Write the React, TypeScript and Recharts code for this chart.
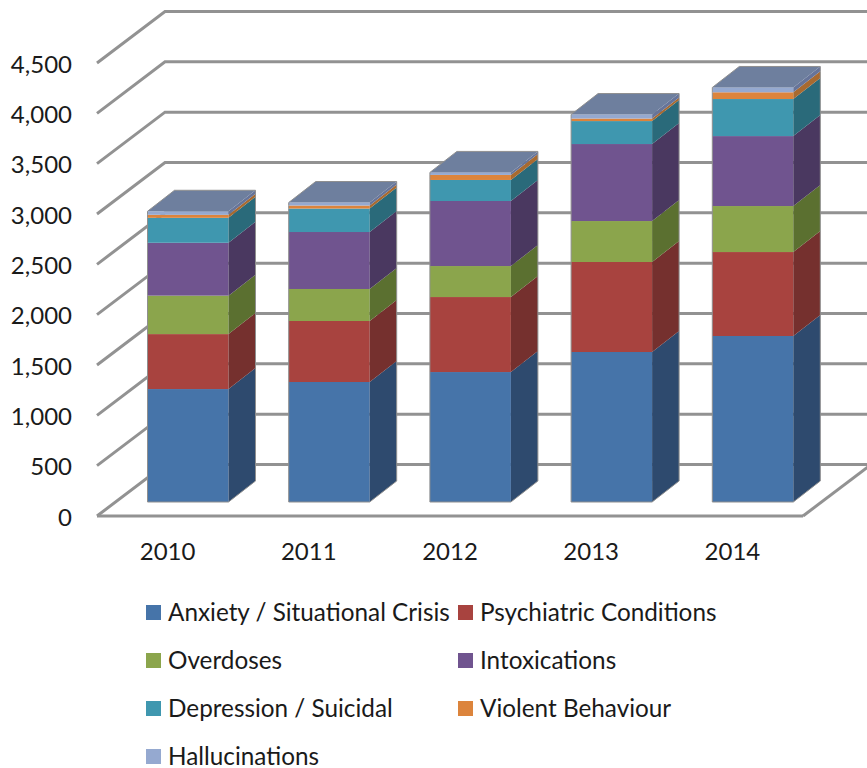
import React from 'react';
import { BarChart, Bar, XAxis, YAxis, CartesianGrid, Legend } from 'recharts';

const years = ['2010', '2011', '2012', '2013', '2014'];
const yTicks = [0, 500, 1000, 1500, 2000, 2500, 3000, 3500, 4000, 4500];

const anxiety = [1122, 1192, 1291, 1490, 1649];
const psychiatric = [546, 606, 745, 894, 834];
const overdoses = [382, 318, 308, 407, 457];
const intoxications = [525, 566, 646, 765, 695];
const depression = [248, 233, 209, 228, 368];
const violent = [30, 30, 50, 25, 67];
const hallucinations = [35, 30, 25, 40, 48];

const seriesNames = [
  'Anxiety / Situational Crisis',
  'Psychiatric Conditions',
  'Overdoses',
  'Intoxications',
  'Depression / Suicidal',
  'Violent Behaviour',
  'Hallucinations',
];
const seriesValues = [anxiety, psychiatric, overdoses, intoxications, depression, violent, hallucinations];
const frontColors = ['#4674A9', '#A8433F', '#8BA54C', '#70548F', '#3F97AF', '#DC843C', '#95A9D0'];
const sideColors = ['#2E4A6E', '#75302E', '#5B7030', '#4A3860', '#2A6A7A', '#A86A30', '#66749A'];
const roofColor = '#6E7F9E';

const chartData = years.map((year, i) => {
  const row: Record<string, string | number> = { year };
  seriesNames.forEach((name, s) => {
    row[name] = seriesValues[s][i];
  });
  return row;
});

const FONT = 'Lato, sans-serif';
const GRID = '#929292';
const EDGE = '#8f8f8f';
const plotBottom = 516;

// floor/wall depth of the box
const WALL_DX = 68;
const WALL_DY = -51.5;
// where the columns sit inside that depth
const BAR_DX = 20.5;
const BAR_DY = -14;
const BAR_DEPTH_X = 27;
const BAR_DEPTH_Y = -21;

const pts = (list: number[][]) => list.map(p => p.join(',')).join(' ');

// each segment of a column: front, side, and the roof for the last series
const makeBlock = (seriesIndex: number) => (props: any) => {
  const { width: w, height: h, fill } = props;
  const x = props.x + BAR_DX;
  const y = props.y + BAR_DY;
  const bx = x + w + BAR_DEPTH_X;
  const isBase = seriesIndex === 0;
  const isLast = seriesIndex === seriesNames.length - 1;
  return (
    <g>
      <rect x={x} y={y} width={w} height={h} fill={fill} />
      <polygon
        points={pts([[x + w, y], [bx, y + BAR_DEPTH_Y], [bx, y + h + BAR_DEPTH_Y], [x + w, y + h]])}
        fill={sideColors[seriesIndex]}
      />
      {isLast && (
        <polygon
          points={pts([[x, y], [x + BAR_DEPTH_X, y + BAR_DEPTH_Y], [bx, y + BAR_DEPTH_Y], [x + w, y]])}
          fill={roofColor}
        />
      )}
      <line x1={x} y1={y} x2={x} y2={y + h} stroke={EDGE} />
      <line x1={bx} y1={y + BAR_DEPTH_Y} x2={bx} y2={y + h + BAR_DEPTH_Y} stroke={EDGE} />
      {isLast && (
        <polyline
          points={pts([[x, y], [x + BAR_DEPTH_X, y + BAR_DEPTH_Y], [bx, y + BAR_DEPTH_Y]])}
          fill="none"
          stroke={EDGE}
        />
      )}
      {isBase && (
        <polyline points={pts([[x, y + h], [x + w, y + h], [bx, y + h + BAR_DEPTH_Y]])} fill="none" stroke={EDGE} />
      )}
    </g>
  );
};

// gridline bent along the side wall and the back wall
const wallLine = (props: any) => {
  const { x1, x2, y1 } = props;
  const backY = y1 + WALL_DY;
  return (
    <g key={props.key}>
      <polyline
        points={pts([[x1, y1], [x1 + WALL_DX, backY], [x2 + WALL_DX, backY]])}
        fill="none"
        stroke={GRID}
        strokeWidth={3}
      />
      {Math.abs(y1 - plotBottom) < 1 && (
        <line x1={x2} y1={y1} x2={x2 + WALL_DX} y2={backY} stroke={GRID} strokeWidth={3} />
      )}
    </g>
  );
};

const legendContent = ({ payload }: any) => (
  <div style={{ position: 'relative', width: 867, height: 178, fontFamily: FONT, fontSize: 24.3, color: '#1a1a1a' }}>
    {(payload || []).map((item: any, i: number) => (
      <div
        key={item.value}
        style={{ position: 'absolute', left: 146, top: 0, transform: `translate(${(i % 2) * 312}px, ${Math.floor(i / 2) * 48}px)`, whiteSpace: 'nowrap' }}
      >
        <span style={{ position: 'absolute', left: 0, top: 15, width: 15, height: 15, background: item.color }} />
        <span style={{ position: 'absolute', left: 22, top: 10, height: 24, lineHeight: '24px' }}>{item.value}</span>
      </div>
    ))}
  </div>
);

export default function App() {
  return (
    <div style={{ position: 'absolute', left: 0, top: 0, width: 867, height: 768, background: '#fff', overflow: 'hidden' }}>
      <BarChart
        width={867}
        height={768}
        data={chartData}
        margin={{ top: 63, right: 64, bottom: 212, left: 0 }}
        barSize={81}
      >
        <CartesianGrid vertical={false} horizontal={wallLine} />
        <XAxis
          dataKey="year"
          height={40}
          tickLine={false}
          tickMargin={21}
          axisLine={{ stroke: GRID, strokeWidth: 3 }}
          tick={{ fill: '#1a1a1a', fontSize: 24, fontFamily: FONT }}
        />
        <YAxis
          width={97}
          domain={[0, 4500]}
          ticks={yTicks}
          interval={0}
          tickLine={false}
          axisLine={false}
          tickMargin={19}
          tickFormatter={(v: number) => v.toLocaleString('en-US')}
          tick={{ fill: '#1a1a1a', fontSize: 24, fontFamily: FONT, dy: 1 }}
        />
        {seriesNames.map((name, s) => (
          <Bar
            key={name}
            dataKey={name}
            name={name}
            stackId="total"
            fill={frontColors[s]}
            shape={makeBlock(s)}
            isAnimationActive={false}
          />
        ))}
        <Legend
          layout="horizontal"
          align="center"
          verticalAlign="middle"
          itemSorter={null}
          content={legendContent}
          wrapperStyle={{ left: 0, top: 590, width: 867, height: 178 }}
        />
      </BarChart>
    </div>
  );
}
